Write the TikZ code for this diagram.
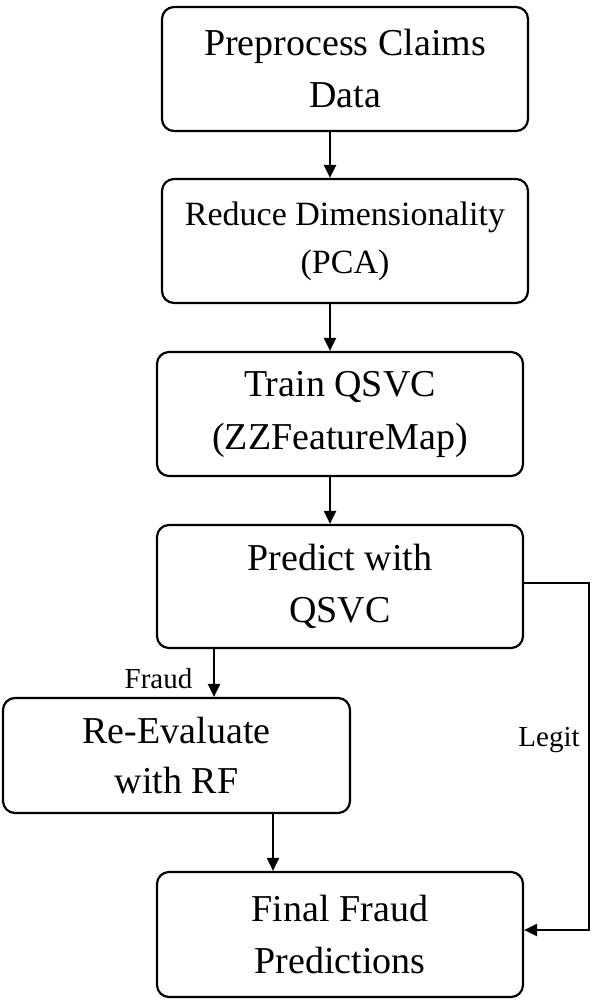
\documentclass[tikz,border=0pt]{standalone}
\usepackage{fontspec}
\setmainfont{Liberation Serif}
\usetikzlibrary{arrows.meta}
\tikzset{
  box/.style={draw, line width=2.2pt, rounded corners=12pt, minimum width=366pt, minimum height=124pt, align=center, inner sep=0pt,
    font=\fontsize{38}{52}\selectfont},
  arr/.style={line width=2.2pt, -{Triangle[length=13pt,width=12pt]}},
  lbl/.style={font=\fontsize{29}{33}\selectfont, inner sep=0pt, anchor=base}
}
\begin{document}
\begin{tikzpicture}[x=1pt,y=1pt]
\fill[white] (0,0) rectangle (597,-1000);
\useasboundingbox (0,0) rectangle (597,-1000);
\node[box] (b1) at (345,-69) {Preprocess Claims\\Data};
\node[box, font=\fontsize{34}{48}\selectfont] (b2) at (345,-241) {Reduce Dimensionality\\(PCA)};
\node[box, font=\fontsize{38}{53}\selectfont] (b3) at (340,-414) {Train QSVC\\(ZZFeatureMap)};
\node[box, minimum height=123pt] (b4) at (340,-586.5) {Predict with\\QSVC};
\node[box, minimum width=347pt, minimum height=115pt, font=\fontsize{38}{50}\selectfont] (b5) at (176.5,-755.5) {Re-Evaluate\\with RF};
\node[box, minimum height=125pt] (b6) at (340,-934.5) {Final Fraud\\Predictions};
\draw[arr] ([xshift=-15pt]b1.south) -- ([xshift=-15pt]b2.north);
\draw[arr] ([xshift=-15pt]b2.south) -- ([xshift=-10pt]b3.north);
\draw[arr] ([xshift=-10pt]b3.south) -- ([xshift=-10pt]b4.north);
\draw[arr] ([xshift=-126pt]b4.south) coordinate (f1) -- (f1 |- b5.north);
\draw[arr] ([xshift=96.5pt]b5.south) coordinate (f2) -- (f2 |- b6.north);
\draw[arr] ([yshift=3.5pt]b4.east) -- ++(65pt,0) coordinate (l1) |- ([yshift=4.5pt]b6.east);
\node[lbl] (fraud) at (158.5,-688) {Fraud};
\node[lbl] (legit) at (549,-746) {Legit};
\end{tikzpicture}
\end{document}
